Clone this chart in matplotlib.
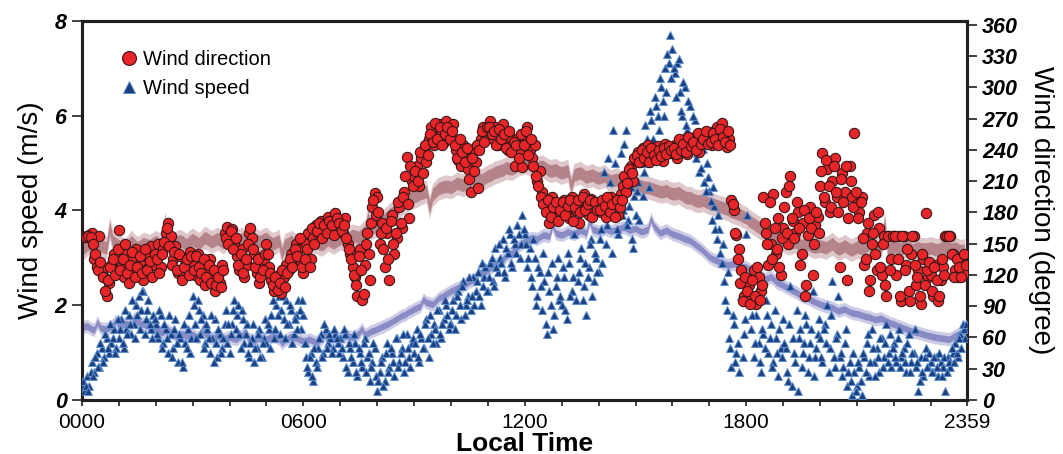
import matplotlib

matplotlib.use("Agg")
import matplotlib.pyplot as plt
import numpy as np
from matplotlib.lines import Line2D
from matplotlib.ticker import FixedLocator, MultipleLocator

plt.rcParams["font.family"] = ["Liberation Sans", "DejaVu Sans"]

# scatter samples every 4 min (minute 0, 4, 8 ...), one row per hour
speed_rows = [
    [0.3, 0.2, 0.5, 0.3, 0.8, 0.6, 1.0, 0.7, 1.1, 0.9, 1.3, 1.0, 1.2, 1.5, 1.1],
    [1.3, 1.7, 1.1, 1.5, 1.8, 1.4, 1.6, 2.0, 2.2, 1.9, 2.3, 1.7, 2.1, 1.5, 1.8],
    [1.6, 1.3, 1.8, 1.2, 1.5, 1.0, 1.4, 1.1, 1.7, 0.8, 1.3, 0.7, 1.2, 1.5, 1.0],
    [2.2, 1.6, 2.1, 1.4, 1.8, 1.2, 1.5, 1.0, 1.3, 1.7, 0.9, 1.4, 1.1, 1.6, 1.2],
    [1.0, 1.6, 2.1, 1.8, 1.4, 1.9, 1.2, 1.6, 0.9, 1.3, 0.8, 1.1, 1.5, 0.9, 1.3],
    [1.2, 1.5, 1.8, 1.3, 2.0, 2.2, 1.9, 1.7, 2.1, 1.6, 1.9, 1.4, 1.8, 2.1, 1.5],
    [1.8, 0.9, 0.6, 1.0, 0.4, 0.8, 1.1, 1.4, 1.0, 1.5, 1.2, 1.3, 1.1, 1.4, 1.2],
    [1.3, 0.9, 1.4, 0.6, 1.1, 0.8, 1.2, 0.5, 1.0, 0.7, 1.3, 0.9, 0.4, 0.8, 1.1],
    [0.2, 0.6, 0.9, 0.4, 1.2, 0.7, 1.0, 0.5, 1.3, 0.8, 1.1, 0.6, 1.4, 0.9, 1.2],
    [1.0, 1.5, 0.8, 1.3, 1.1, 1.7, 0.9, 1.4, 1.6, 1.2, 1.9, 1.3, 1.7, 2.0, 1.5],
    [1.6, 2.1, 1.8, 2.3, 1.7, 2.5, 2.0, 2.2, 1.9, 2.6, 2.3, 2.7, 2.0, 2.4, 2.8],
    [2.3, 2.9, 2.5, 3.2, 2.7, 3.0, 3.4, 2.6, 3.1, 3.5, 2.8, 3.3, 3.7, 3.0, 3.9],
    [3.5, 2.8, 3.2, 2.4, 3.0, 2.2, 2.7, 1.9, 2.5, 1.4, 2.3, 2.9, 1.8, 2.6, 2.1],
    [2.0, 2.6, 1.7, 2.9, 2.3, 3.5, 2.1, 2.7, 3.2, 2.4, 1.8, 2.8, 3.4, 2.5, 3.0],
    [2.7, 3.6, 4.8, 3.3, 5.1, 3.9, 5.7, 4.2, 3.5, 5.2, 4.0, 5.7, 3.8, 4.5, 3.2],
    [3.9, 4.6, 5.3, 4.3, 5.8, 5.0, 6.1, 5.5, 6.4, 6.0, 6.8, 6.3, 7.0, 7.3, 7.7],
    [7.4, 6.9, 7.1, 6.5, 6.0, 6.6, 5.7, 6.2, 5.5, 5.9, 5.2, 4.8, 5.4, 4.6, 5.0],
    [4.4, 3.8, 4.1, 3.4, 3.6, 2.9, 2.5, 1.9, 1.3, 0.7, 1.6, 1.0, 0.6, 2.2, 1.4],
    [3.5, 2.3, 1.5, 0.9, 1.8, 1.2, 0.6, 1.4, 2.1, 1.0, 1.6, 0.8, 1.3, 0.5, 1.1],
    [1.7, 1.1, 0.4, 2.4, 1.3, 0.8, 0.2, 1.5, 1.0, 1.8, 0.6, 1.2, 2.3, 0.9, 1.4],
    [1.3, 0.8, 1.6, 2.0, 1.1, 2.5, 0.7, 1.4, 0.9, 0.5, 1.2, 0.3, 0.8, 0.1, 0.6],
    [0.3, 0.7, 0.1, 0.9, 1.2, 0.5, 1.5, 0.8, 1.1, 0.6, 1.3, 0.9, 1.6, 1.0, 0.7],
    [1.2, 0.8, 1.5, 0.9, 1.1, 0.6, 1.4, 0.8, 1.0, 0.7, 0.2, 0.9, 0.5, 1.1, 0.7],
    [0.8, 0.6, 0.9, 0.5, 0.8, 0.7, 0.2, 0.9, 0.7, 1.0, 1.2, 0.9, 1.4, 1.6, 1.3],
]

# second set of samples, 2 min later (minute 2, 6, 10 ...)
speed_rows_b = [
    [0.4, 0.3, 0.2, 0.6, 0.5, 0.9, 0.7, 1.2, 0.8, 1.4, 1.1, 1.6, 1.3, 1.0, 1.7],
    [1.5, 1.2, 1.9, 1.4, 1.6, 2.1, 1.3, 1.8, 1.5, 2.3, 1.4, 1.9, 1.6, 1.3, 1.7],
    [1.4, 1.9, 1.1, 1.6, 1.3, 1.8, 0.9, 1.5, 1.2, 1.4, 0.8, 1.6, 1.1, 1.8, 1.3],
    [2.0, 1.3, 1.9, 1.7, 1.1, 1.6, 1.3, 1.8, 0.8, 1.2, 1.5, 1.0, 1.3, 1.9, 1.6],
    [1.4, 1.9, 1.5, 2.0, 1.1, 1.7, 1.4, 1.0, 1.2, 1.6, 1.1, 1.4, 0.9, 1.2, 1.7],
    [1.6, 1.1, 2.1, 1.5, 1.8, 1.4, 2.2, 1.3, 1.6, 2.0, 1.2, 1.7, 1.5, 1.9, 2.1],
    [1.2, 0.7, 0.9, 0.5, 1.1, 0.7, 1.3, 0.9, 1.6, 1.1, 1.4, 1.0, 1.5, 1.3, 1.0],
    [1.1, 1.5, 0.7, 1.2, 0.9, 1.4, 0.6, 1.1, 0.8, 1.2, 0.6, 1.0, 0.7, 1.2, 0.5],
    [0.4, 0.8, 0.3, 1.0, 0.6, 1.1, 0.8, 1.3, 0.7, 1.0, 1.4, 0.8, 1.1, 0.7, 1.3],
    [1.2, 0.9, 1.4, 1.1, 1.6, 1.3, 1.8, 1.2, 1.5, 1.9, 1.4, 1.6, 2.1, 1.8, 1.6],
    [1.9, 1.5, 2.2, 2.0, 2.4, 1.8, 2.1, 2.6, 2.2, 2.0, 2.5, 2.2, 2.9, 2.6, 2.3],
    [2.6, 3.0, 2.4, 2.8, 3.3, 2.9, 2.7, 3.2, 3.6, 2.9, 3.4, 3.1, 3.5, 3.3, 3.6],
    [3.3, 3.0, 2.6, 3.4, 2.0, 2.8, 2.4, 3.1, 1.6, 2.7, 2.0, 1.5, 2.4, 3.0, 2.2],
    [2.8, 1.9, 3.1, 2.2, 2.6, 3.8, 2.5, 3.0, 2.1, 2.9, 2.6, 3.3, 2.2, 3.1, 2.7],
    [3.4, 2.9, 4.2, 3.7, 4.6, 3.1, 5.0, 3.6, 4.4, 3.9, 5.4, 3.7, 4.1, 3.4, 4.3],
    [4.4, 3.8, 5.0, 4.8, 5.5, 4.5, 5.9, 5.2, 6.2, 5.7, 6.6, 6.0, 6.5, 7.1, 6.8],
    [7.0, 6.4, 7.2, 6.1, 6.7, 5.8, 6.3, 5.4, 6.0, 5.1, 5.6, 4.9, 5.3, 4.4, 4.7],
    [4.2, 4.5, 3.6, 3.9, 3.1, 3.3, 2.1, 2.7, 1.1, 1.8, 0.8, 1.2, 2.5, 0.9, 1.7],
    [3.9, 2.6, 1.8, 1.2, 2.3, 0.8, 1.5, 1.1, 1.8, 1.3, 0.7, 1.9, 1.0, 1.5, 0.9],
    [1.2, 0.6, 1.6, 0.3, 1.0, 1.9, 1.3, 0.7, 1.2, 1.6, 0.9, 1.5, 0.5, 1.1, 1.7],
    [0.9, 1.5, 1.2, 0.6, 1.8, 0.9, 1.3, 2.2, 1.0, 0.7, 1.5, 0.6, 0.4, 1.0, 0.2],
    [0.8, 0.4, 1.0, 0.6, 1.4, 0.8, 1.1, 0.5, 0.9, 1.3, 0.7, 1.2, 0.8, 1.4, 1.1],
    [0.9, 1.3, 0.7, 1.0, 0.8, 1.2, 0.6, 1.0, 1.5, 0.8, 0.4, 0.6, 0.9, 0.7, 1.0],
    [0.6, 0.9, 0.7, 1.0, 0.5, 0.9, 0.6, 0.8, 1.1, 0.8, 1.0, 1.3, 1.1, 1.5, 1.6],
]

direction_rows = [
    [156, 156, 157, 158, 160, 135, 128, 157, 125, 118, 100, 112, 130, 140, 122],
    [163, 128, 118, 140, 112, 135, 125, 145, 120, 132, 115, 138, 127, 148, 130],
    [140, 150, 128, 145, 160, 170, 157, 135, 148, 122, 138, 118, 130, 125, 142],
    [132, 120, 140, 115, 128, 110, 125, 135, 118, 105, 122, 112, 130, 160, 166],
    [158, 164, 150, 138, 125, 145, 118, 130, 160, 155, 140, 122, 112, 128, 135],
    [150, 128, 115, 105, 110, 120, 103, 118, 130, 125, 140, 135, 150, 145, 132],
    [122, 150, 160, 135, 155, 168, 160, 172, 158, 165, 176, 162, 170, 179, 165],
    [170, 160, 175, 150, 140, 128, 118, 100, 145, 96, 130, 160, 115, 185, 199],
    [195, 150, 170, 128, 160, 115, 178, 140, 155, 185, 165, 200, 233, 175, 210],
    [215, 225, 205, 232, 240, 228, 250, 262, 245, 255, 265, 258, 248, 268, 260],
    [252, 265, 240, 230, 225, 245, 235, 222, 200, 238, 228, 203, 250, 262, 255],
    [258, 268, 250, 262, 245, 255, 265, 248, 240, 252, 243, 225, 250, 236, 224],
    [250, 262, 240, 232, 245, 210, 220, 200, 192, 185, 170, 195, 182, 178, 188],
    [185, 192, 180, 175, 195, 188, 182, 170, 190, 198, 185, 178, 193, 180, 186],
    [188, 180, 192, 176, 185, 195, 182, 190, 178, 198, 205, 200, 215, 225, 210],
    [230, 238, 228, 242, 235, 245, 232, 240, 236, 244, 238, 229, 246, 241, 237],
    [238, 245, 232, 248, 240, 250, 236, 246, 242, 252, 244, 238, 255, 248, 252],
    [252, 245, 258, 262, 248, 266, 255, 243, 250, 192, 182, 158, 145, 125, 100],
    [95, 110, 100, 125, 92, 118, 105, 195, 160, 130, 150, 198, 140, 175, 120],
    [165, 200, 150, 215, 172, 160, 180, 130, 170, 100, 158, 185, 120, 168, 176],
    [205, 237, 190, 222, 180, 210, 232, 195, 128, 218, 200, 115, 225, 195, 256],
    [188, 180, 195, 130, 160, 105, 150, 178, 125, 165, 120, 157, 100, 157, 135],
    [157, 120, 157, 95, 157, 130, 105, 140, 157, 110, 125, 92, 135, 179, 118],
    [120, 100, 130, 95, 115, 128, 157, 157, 157, 140, 125, 118, 135, 130, 122],
]

direction_rows_b = [
    [156, 156, 157, 156, 150, 140, 125, 132, 118, 105, 115, 128, 135, 120, 145],
    [125, 135, 150, 122, 130, 142, 118, 128, 138, 122, 145, 125, 133, 118, 140],
    [135, 122, 140, 152, 165, 148, 130, 142, 125, 140, 115, 128, 135, 120, 138],
    [125, 138, 128, 122, 135, 118, 130, 112, 125, 110, 118, 108, 125, 155, 150],
    [162, 145, 155, 130, 140, 122, 135, 150, 165, 145, 128, 135, 118, 125, 140],
    [140, 122, 110, 118, 106, 112, 125, 108, 122, 135, 128, 145, 138, 155, 128],
    [135, 145, 128, 165, 150, 162, 170, 155, 168, 160, 172, 168, 158, 175, 170],
    [162, 168, 155, 145, 135, 120, 110, 138, 125, 102, 150, 140, 170, 192, 178],
    [180, 160, 145, 165, 135, 172, 150, 160, 190, 170, 195, 215, 188, 225, 205],
    [220, 210, 238, 218, 245, 235, 255, 248, 266, 250, 262, 245, 255, 262, 250],
    [258, 245, 232, 250, 238, 228, 242, 212, 232, 220, 245, 240, 258, 248, 262],
    [262, 255, 258, 245, 260, 250, 255, 242, 258, 238, 248, 245, 232, 255, 245],
    [258, 235, 250, 225, 215, 205, 195, 188, 180, 192, 176, 185, 190, 172, 182],
    [190, 178, 186, 192, 172, 185, 192, 180, 195, 182, 188, 192, 176, 190, 182],
    [182, 192, 186, 195, 180, 188, 176, 192, 185, 192, 215, 208, 222, 218, 232],
    [235, 228, 240, 232, 238, 228, 242, 235, 230, 240, 234, 242, 236, 244, 240],
    [242, 236, 250, 240, 246, 238, 252, 244, 248, 240, 256, 246, 250, 258, 246],
    [248, 256, 250, 245, 260, 252, 248, 258, 245, 188, 160, 135, 112, 95, 118],
    [105, 92, 115, 100, 128, 96, 110, 170, 150, 190, 135, 165, 145, 128, 155],
    [185, 160, 205, 175, 155, 190, 165, 140, 182, 110, 175, 165, 150, 180, 160],
    [220, 195, 230, 205, 185, 225, 200, 180, 212, 190, 225, 175, 210, 185, 200],
    [175, 190, 155, 135, 170, 115, 160, 140, 180, 128, 150, 110, 157, 125, 157],
    [157, 135, 100, 157, 125, 145, 95, 157, 130, 118, 100, 140, 110, 125, 132],
    [105, 128, 115, 100, 135, 120, 157, 157, 140, 118, 135, 128, 118, 140, 130],
]

# smoothed background bands: values at minute 0, 10, 20 ... (6 per hour)
speed_band = [
    1.50, 1.55, 1.48, 1.52, 1.50, 1.58,
    1.55, 1.62, 1.58, 1.65, 1.60, 1.55,
    1.50, 1.42, 1.48, 1.38, 1.40, 1.35,
    1.38, 1.32, 1.40, 1.30, 1.35, 1.28,
    1.33, 1.28, 1.36, 1.30, 1.25, 1.32,
    1.28, 1.35, 1.30, 1.26, 1.34, 1.30,
    1.24, 1.28, 1.22, 1.30, 1.26, 1.32,
    1.30, 1.36, 1.32, 1.40, 1.38, 1.45,
    1.50, 1.56, 1.62, 1.70, 1.78, 1.85,
    1.92, 1.98, 2.06, 2.02, 2.15, 2.22,
    2.30, 2.36, 2.42, 2.50, 2.56, 2.65,
    2.75, 2.85, 2.92, 3.05, 3.12, 3.25,
    3.35, 3.42, 3.40, 3.48, 3.45, 3.52,
    3.48, 3.55, 3.50, 3.58, 3.52, 3.60,
    3.55, 3.62, 3.56, 3.60, 3.65, 3.58,
    3.62, 3.55, 3.60, 3.66, 3.52, 3.58,
    3.50, 3.46, 3.40, 3.35, 3.25, 3.15,
    3.02, 2.95, 2.90, 2.85, 2.88, 2.82,
    2.80, 2.72, 2.65, 2.55, 2.60, 2.48,
    2.42, 2.35, 2.28, 2.20, 2.15, 2.08,
    2.02, 1.98, 1.95, 1.88, 1.92, 1.85,
    1.82, 1.78, 1.75, 1.70, 1.72, 1.65,
    1.60, 1.55, 1.50, 1.45, 1.42, 1.38,
    1.35, 1.32, 1.30, 1.28, 1.36, 1.42,
]

# band values at minute 5, 15, 25 ... (in-between samples, a few spikes)
speed_band_mid = [
    1.56, 1.50, 1.64, 1.50, 1.53, 1.68,
    1.58, 1.60, 1.74, 1.62, 1.57, 1.52,
    1.45, 1.46, 1.42, 1.30, 1.38, 1.37,
    1.34, 1.48, 1.35, 1.32, 1.30, 1.31,
    1.30, 1.32, 1.44, 1.27, 1.29, 1.30,
    1.31, 1.33, 1.20, 1.30, 1.32, 1.27,
    1.26, 1.25, 1.26, 1.38, 1.29, 1.31,
    1.33, 1.34, 1.36, 1.50, 1.41, 1.47,
    1.53, 1.59, 1.66, 1.74, 1.80, 1.88,
    1.95, 2.12, 2.04, 2.08, 2.18, 2.26,
    2.33, 2.39, 2.46, 2.53, 2.72, 2.70,
    2.80, 2.88, 2.98, 3.08, 3.18, 3.30,
    3.38, 3.41, 3.44, 3.47, 3.70, 3.50,
    3.51, 3.52, 3.54, 3.56, 3.78, 3.58,
    3.58, 3.59, 3.58, 3.62, 3.62, 3.60,
    3.58, 3.57, 3.82, 3.59, 3.55, 3.54,
    3.48, 3.43, 3.38, 3.30, 3.20, 3.08,
    2.98, 2.92, 2.87, 2.86, 2.85, 2.81,
    2.76, 2.68, 2.60, 2.57, 2.54, 2.45,
    2.38, 2.31, 2.24, 2.17, 2.11, 2.05,
    2.00, 1.96, 1.91, 1.90, 1.88, 1.83,
    1.80, 1.76, 1.72, 1.71, 1.68, 1.62,
    1.57, 1.52, 1.47, 1.43, 1.40, 1.36,
    1.33, 1.31, 1.29, 1.32, 1.39, 1.46,
]

direction_band = [
    145, 150, 142, 148, 146, 152,
    148, 144, 152, 146, 150, 148,
    152, 148, 155, 150, 153, 149,
    154, 150, 156, 152, 155, 151,
    156, 152, 155, 150, 154, 152,
    155, 150, 153, 149, 152, 148,
    150, 147, 152, 149, 154, 151,
    155, 153, 158, 156, 162, 165,
    168, 172, 178, 182, 188, 192,
    195, 198, 200, 197, 203, 205,
    204, 208, 206, 210, 213, 211,
    215, 218, 220, 223, 222, 226,
    228, 226, 223, 224, 220, 221,
    218, 220, 216, 218, 214, 216,
    213, 215, 210, 212, 208, 210,
    207, 205, 204, 202, 200, 201,
    198, 199, 195, 194, 191, 192,
    189, 187, 185, 183, 180, 178,
    175, 170, 166, 162, 158, 155,
    153, 150, 152, 148, 150, 147,
    148, 146, 150, 145, 148, 144,
    147, 145, 150, 146, 148, 144,
    147, 145, 148, 144, 146, 145,
    146, 144, 147, 145, 146, 143,
]

direction_band_mid = [
    147, 146, 145, 147, 165, 150,
    146, 148, 149, 148, 149, 150,
    150, 170, 152, 152, 151, 152,
    152, 153, 154, 153, 153, 155,
    154, 153, 152, 152, 153, 154,
    152, 151, 140, 150, 150, 149,
    148, 150, 150, 151, 152, 153,
    154, 156, 157, 159, 175, 166,
    170, 175, 180, 185, 190, 194,
    196, 199, 185, 200, 204, 205,
    206, 207, 208, 212, 212, 213,
    216, 219, 221, 222, 224, 227,
    227, 224, 224, 222, 220, 219,
    219, 205, 217, 216, 215, 214,
    214, 212, 211, 210, 209, 208,
    206, 204, 203, 201, 200, 199,
    198, 197, 194, 192, 191, 190,
    188, 186, 184, 181, 179, 176,
    172, 168, 164, 160, 156, 154,
    151, 151, 150, 149, 148, 147,
    147, 148, 147, 146, 146, 145,
    146, 147, 148, 147, 170, 146,
    146, 146, 146, 145, 145, 145,
    145, 145, 146, 145, 144, 144,
]

x_ticks = [0, 360, 720, 1080, 1439]
x_ticklabels = ["0000", "0600", "1200", "1800", "2359"]


def interleave(a, b):
    out = np.empty(len(a) + len(b))
    out[0::2] = a
    out[1::2] = b
    return out


def main():
    speed = np.concatenate(speed_rows + speed_rows_b)
    direction = np.concatenate(direction_rows + direction_rows_b).astype(float)
    n = len(speed_rows) * 15
    t_scatter = np.concatenate([np.arange(n) * 4, np.arange(n) * 4 + 2])

    sb = interleave(speed_band, speed_band_mid)
    db = interleave(direction_band, direction_band_mid)
    t_band = np.arange(sb.size) * 5

    fig = plt.figure(figsize=(10.63, 4.54), dpi=100)
    ax = fig.add_axes([0.0771, 0.1189, 0.8326, 0.8355])
    ax2 = ax.twinx()
    ax.set_zorder(ax2.get_zorder() + 1)
    ax.patch.set_visible(False)

    ax.set_xlim(0, 1439)
    ax.set_ylim(0, 8)
    ax2.set_ylim(0, 364)

    dir_tr = ax2.transData
    # soft outer edge + solid core for each band
    ax.fill_between(t_band, db - 11, db + 11, transform=dir_tr,
                    color="#b9878c", alpha=0.45, lw=0, zorder=1)
    ax.fill_between(t_band, db - 6, db + 6, transform=dir_tr,
                    color="#b5838a", lw=0, zorder=1)
    ax.fill_between(t_band, sb - 0.14, sb + 0.14,
                    color="#8e8ec8", alpha=0.45, lw=0, zorder=2)
    ax.fill_between(t_band, sb - 0.07, sb + 0.07,
                    color="#8a8ac4", lw=0, zorder=2)
    ax.scatter(t_scatter, speed, marker="^", s=32, color="#1d3f80",
               edgecolors="#5b8fd0", linewidths=0.7, zorder=3)
    ax.scatter(t_scatter, direction, transform=dir_tr, marker="o", s=55,
               color="#e8262a", edgecolors="#3a1616", linewidths=0.8, zorder=4)

    ax.xaxis.set_major_locator(FixedLocator(x_ticks))
    ax.set_xticklabels(x_ticklabels, fontsize=15)
    ax.xaxis.set_minor_locator(MultipleLocator(60))
    ax.tick_params(axis="x", which="both", direction="out", length=4,
                   width=1.2, color="#231f20", pad=5)
    ax.set_xlabel("Local Time", fontsize=19, fontweight="bold", labelpad=0)

    ax.set_yticks([0, 2, 4, 6, 8])
    ax.tick_params(axis="y", direction="out", length=7, width=1.2,
                   color="#231f20", pad=4)
    for lab in ax.get_yticklabels():
        lab.set_fontsize(15.5)
        lab.set_fontweight("bold")
        lab.set_fontstyle("italic")
    ax.set_ylabel("Wind speed (m/s)", fontsize=20, labelpad=8)

    ax2.set_yticks(np.arange(0, 361, 30))
    ax2.tick_params(axis="y", direction="out", length=7, width=1.2,
                    color="#231f20", pad=4)
    for lab in ax2.get_yticklabels():
        lab.set_fontsize(15.5)
        lab.set_fontweight("bold")
        lab.set_fontstyle("italic")
    ax2.set_ylabel("Wind direction (degree)", fontsize=20, rotation=270,
                   labelpad=26)

    for a in (ax, ax2):
        for sp in a.spines.values():
            sp.set_linewidth(2.2)
            sp.set_color("#231f20")

    handles = [
        Line2D([], [], marker="o", ls="none", markersize=10,
               markerfacecolor="#e8262a", markeredgecolor="#3a1616",
               markeredgewidth=0.8, label="Wind direction"),
        Line2D([], [], marker="^", ls="none", markersize=8,
               markerfacecolor="#1d3f80", markeredgecolor="#5b8fd0",
               markeredgewidth=0.7, label="Wind speed"),
    ]
    ax.legend(handles=handles, loc="upper left", bbox_to_anchor=(0.03, 0.945),
              frameon=False, fontsize=14.5, handletextpad=0.1,
              handlelength=1.2, labelspacing=0.5, borderaxespad=0)

    fig.savefig("out.png", dpi=100)
    plt.close(fig)


if __name__ == "__main__":
    main()
